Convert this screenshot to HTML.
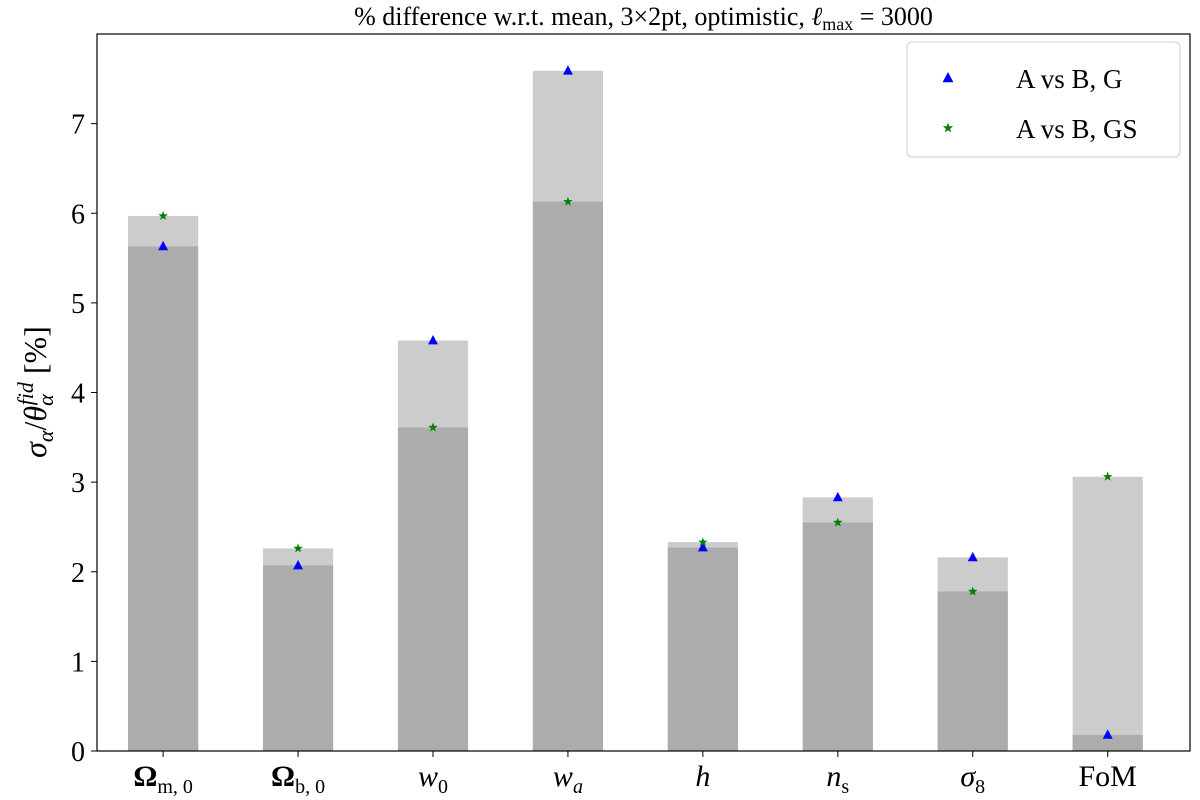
<!DOCTYPE html>
<html><head><meta charset="utf-8"><style>
body{margin:0;background:#fff;}
svg{display:block;font-family:"Liberation Serif","DejaVu Serif",serif;}
</style></head><body>
<svg id="chart" width="1200" height="800"></svg>
<script>
const categories=["Ω_m,0","Ω_b,0","w0","wa","h","ns","σ8","FoM"];
const seriesG=[5.63,2.07,4.58,7.59,2.27,2.83,2.16,0.18];
const seriesGS=[5.97,2.26,3.61,6.13,2.33,2.55,1.78,3.06];
const yTicks=[0,1,2,3,4,5,6,7];
const NS="http://www.w3.org/2000/svg";
const svg=document.getElementById("chart");
const L=97,R=1190,T=34,B=751;
const xMin=-0.49,xMax=7.61,yMin=0,yMax=8.0;
const xs=v=>L+(v-xMin)/(xMax-xMin)*(R-L);
const ys=v=>B-(v-yMin)/(yMax-yMin)*(B-T);
function el(tag,attrs,parent){const e=document.createElementNS(NS,tag);for(const k in attrs)e.setAttribute(k,attrs[k]);(parent||svg).appendChild(e);return e;}
const bw=0.52*(xs(1)-xs(0));
categories.forEach((c,i)=>{
  const hi=Math.max(seriesG[i],seriesGS[i]),lo=Math.min(seriesG[i],seriesGS[i]);
  const b1=el("rect",{x:xs(i)-bw/2,y:ys(hi),width:bw,height:ys(0)-ys(hi),fill:"#cccccc"});
  
  
  const b2=el("rect",{x:xs(i)-bw/2,y:ys(lo),width:bw,height:ys(0)-ys(lo),fill:"#acacac"});
  
  
});
function tri(cx,cy,s){return `${cx},${cy-s} ${cx-s*0.9},${cy+s*0.7} ${cx+s*0.9},${cy+s*0.7}`;}
function star(cx,cy,r){let p=[];for(let k=0;k<10;k++){const a=-Math.PI/2+k*Math.PI/5;const rr=k%2?r*0.4:r;p.push((cx+rr*Math.cos(a)).toFixed(1)+","+(cy+rr*Math.sin(a)).toFixed(1));}return p.join(" ");}
categories.forEach((c,i)=>{
  const t=el("polygon",{points:tri(xs(i),ys(seriesG[i]),5.5),fill:"#0000ff"});
  
  
  const s=el("polygon",{points:star(xs(i),ys(seriesGS[i]),5),fill:"#008000"});
  
  
});
const fr=el("rect",{x:L,y:T,width:R-L,height:B-T,fill:"none",stroke:"#000","stroke-width":1.2});


yTicks.forEach(v=>{
  el("line",{x1:L-6,x2:L,y1:ys(v),y2:ys(v),stroke:"#000"});
  const t=el("text",{x:L-12,y:ys(v)+10,"text-anchor":"end","font-size":28});
  t.textContent=v;
  
  
});
const labelsHtml=[
 '<tspan font-weight="bold">Ω</tspan><tspan font-size="20" dy="7">m, 0</tspan>',
 '<tspan font-weight="bold">Ω</tspan><tspan font-size="20" dy="7">b, 0</tspan>',
 '<tspan font-style="italic">w</tspan><tspan font-size="20" dy="7">0</tspan>',
 '<tspan font-style="italic">w</tspan><tspan font-size="20" dy="7" font-style="italic">a</tspan>',
 '<tspan font-style="italic">h</tspan>',
 '<tspan font-style="italic">n</tspan><tspan font-size="20" dy="7">s</tspan>',
 '<tspan font-style="italic">σ</tspan><tspan font-size="20" dy="7">8</tspan>',
 'FoM'];
categories.forEach((c,i)=>{
  el("line",{x1:xs(i),x2:xs(i),y1:B,y2:B+6,stroke:"#000"});
  const t=el("text",{x:xs(i),y:B+35,"text-anchor":"middle","font-size":30});
  t.innerHTML=labelsHtml[i];
  
  
});
const title=el("text",{x:(L+R)/2,y:25,"text-anchor":"middle","font-size":26});
title.innerHTML='% difference w.r.t. mean, 3×2pt, optimistic, <tspan font-style="italic">ℓ</tspan><tspan font-size="18" dy="5">max</tspan><tspan dy="-5"> = 3000</tspan>';


const yl=el("text",{transform:"translate(46,392) rotate(-90)","text-anchor":"middle","font-size":32});
yl.innerHTML='<tspan font-style="italic">σ</tspan><tspan font-style="italic" font-size="22" dy="7">α</tspan><tspan dy="-7">/</tspan><tspan font-style="italic">θ</tspan><tspan font-style="italic" font-size="22" dy="7">α</tspan><tspan font-style="italic" font-size="22" dy="-20" dx="-11">fid</tspan><tspan dy="13"> [%]</tspan>';


const lg=el("g",{});


el("rect",{x:907,y:42,width:273,height:115,rx:5,fill:"#fff",stroke:"#ccc"},lg);
el("polygon",{points:tri(948,78,6),fill:"#0000ff"},lg);
el("polygon",{points:star(948,128,5.5),fill:"#008000"},lg);
const l1=el("text",{x:1016,y:88,"font-size":27},lg);l1.textContent="A vs B, G";


const l2=el("text",{x:1016,y:138,"font-size":27},lg);l2.textContent="A vs B, GS";


</script>
</body></html>
